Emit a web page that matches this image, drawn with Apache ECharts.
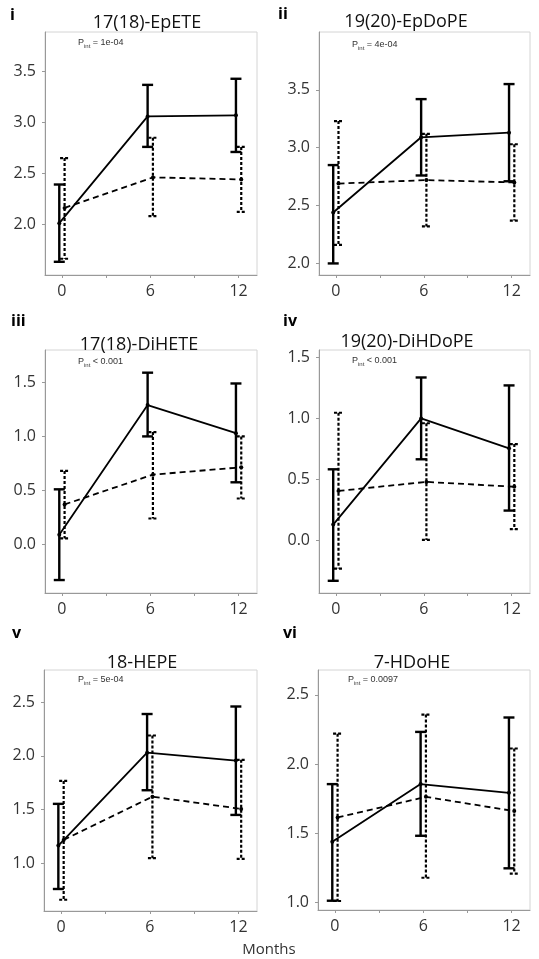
<!DOCTYPE html>
<html>
<head>
<meta charset="utf-8">
<script src="https://cdn.jsdelivr.net/npm/echarts@6/dist/echarts.min.js"></script>
<style>
  html, body { margin: 0; padding: 0; background: #fff; }
  #box1 { width: 539px; height: 959px; }
</style>
</head>
<body>
<div id="box1"></div>
<script>
// data
var months = [0, 6, 12];
var panelLetters = ['i', 'ii', 'iii', 'iv', 'v', 'vi'];
var panelTitles = ['17(18)-EpETE', '19(20)-EpDoPE', '17(18)-DiHETE', '19(20)-DiHDoPE', '18-HEPE', '7-HDoHE'];
var pText = ['= 1e-04', '= 4e-04', '< 0.001', '< 0.001', '= 5e-04', '= 0.0097'];

// solid group: mean, lower, upper
var solidMean = [[2.01, 3.06, 3.07], [2.44, 3.09, 3.13], [0.09, 1.29, 1.03], [0.13, 1.0, 0.755], [1.165, 2.03, 1.956], [1.44, 1.856, 1.793]];
var solidLow = [[1.63, 2.76, 2.71], [2.0, 2.76, 2.71], [-0.33, 1.0, 0.575], [-0.33, 0.665, 0.245], [0.76, 1.68, 1.45], [1.014, 1.483, 1.248]];
var solidHigh = [[2.39, 3.37, 3.43], [2.85, 3.42, 3.55], [0.51, 1.59, 1.49], [0.583, 1.335, 1.27], [1.553, 2.39, 2.46], [1.856, 2.233, 2.337]];

// dashed group: mean, lower, upper
var dashMean = [[2.16, 2.46, 2.44], [2.69, 2.72, 2.70], [0.37, 0.646, 0.714], [0.406, 0.48, 0.44], [1.217, 1.62, 1.506], [1.615, 1.764, 1.661]];
var dashLow = [[1.66, 2.08, 2.12], [2.16, 2.32, 2.37], [0.055, 0.24, 0.425], [-0.23, 0.005, 0.093], [0.66, 1.047, 1.04], [1.012, 1.18, 1.21]];
var dashHigh = [[2.65, 2.85, 2.76], [3.23, 3.12, 3.03], [0.68, 1.04, 1.0], [1.046, 0.96, 0.79], [1.767, 2.19, 1.963], [2.22, 2.358, 2.113]];

// axis ranges and tick labels
var yMin = [1.5, 1.9, -0.45, -0.43, 0.555, 0.947];
var yMax = [3.89, 4.0, 1.80, 1.56, 2.80, 2.68];
var yTicks = [[2.0, 2.5, 3.0, 3.5], [2.0, 2.5, 3.0, 3.5], [0.0, 0.5, 1.0, 1.5], [0.0, 0.5, 1.0, 1.5], [1.0, 1.5, 2.0, 2.5], [1.0, 1.5, 2.0, 2.5]];
var xTicks = [0, 3, 6, 9, 12];
var xLabels = [0, 6, 12];

// layout
var FONT = '"Open Sans", "Noto Sans", sans-serif';
var X_MIN = -1.15, X_MAX = 13.25;
var DODGE = 0.18;
var grids = [
  { left: 45, top: 32, width: 212, height: 243 },
  { left: 319, top: 32, width: 211, height: 243 },
  { left: 45, top: 350, width: 212, height: 243 },
  { left: 319, top: 350, width: 211, height: 243 },
  { left: 44, top: 670, width: 213, height: 241 },
  { left: 318, top: 670, width: 212, height: 240 }
];
var letterPos = [[10, 17], [278, 16], [11, 323], [283, 323], [12, 635], [283, 635]];
var titlePos = [[147, 23], [406, 22], [139, 345], [407, 342], [142, 663], [412, 663]];
var pPos = [[78, 43], [352, 45], [78, 362], [352, 361], [78, 680], [348, 680]];

function errorBar(dashed) {
  return function (params, api) {
    var x = api.value(0);
    var lo = api.coord([x, api.value(1)]);
    var hi = api.coord([x, api.value(2)]);
    var w = dashed ? 4.5 : 5.5;
    var style = { stroke: '#000', lineWidth: dashed ? 2.2 : 2.4, lineDash: dashed ? [3, 2] : null };
    return {
      type: 'group',
      children: [
        { type: 'line', shape: { x1: hi[0], y1: hi[1], x2: lo[0], y2: lo[1] }, style: style },
        { type: 'line', shape: { x1: hi[0] - w, y1: hi[1], x2: hi[0] + w, y2: hi[1] }, style: style },
        { type: 'line', shape: { x1: lo[0] - w, y1: lo[1], x2: lo[0] + w, y2: lo[1] }, style: style }
      ]
    };
  };
}

var option = {
  animation: false,
  backgroundColor: '#fff',
  grid: [],
  xAxis: [],
  yAxis: [],
  series: [],
  graphic: []
};

for (var p = 0; p < 6; p++) {
  option.grid.push({
    left: grids[p].left, top: grids[p].top, width: grids[p].width, height: grids[p].height,
    show: true, borderColor: '#d4d4d4', borderWidth: 1
  });
  option.xAxis.push({
    gridIndex: p, type: 'value', min: X_MIN, max: X_MAX,
    axisLine: { show: true, onZero: false, lineStyle: { color: '#999', width: 1 } },
    axisTick: { show: true, customValues: xTicks, length: 3, lineStyle: { color: '#999' } },
    axisLabel: { customValues: xLabels, fontSize: 16, color: '#333', margin: 8, fontFamily: FONT },
    splitLine: { show: false }
  });
  option.yAxis.push({
    gridIndex: p, type: 'value', min: yMin[p], max: yMax[p],
    axisLine: { show: true, onZero: false, lineStyle: { color: '#999', width: 1 } },
    axisTick: { show: true, customValues: yTicks[p], length: 3, lineStyle: { color: '#999' } },
    axisLabel: {
      customValues: yTicks[p], fontSize: 16, color: '#333', margin: 9, fontFamily: FONT,
      formatter: function (v) { return v.toFixed(1); }
    },
    splitLine: { show: false }
  });

  var solidLine = [], dashLine = [], solidErr = [], dashErr = [];
  for (var j = 0; j < months.length; j++) {
    solidLine.push([months[j] - DODGE, solidMean[p][j]]);
    dashLine.push([months[j] + DODGE, dashMean[p][j]]);
    solidErr.push([months[j] - DODGE, solidLow[p][j], solidHigh[p][j]]);
    dashErr.push([months[j] + DODGE, dashLow[p][j], dashHigh[p][j]]);
  }

  option.series.push({
    type: 'custom', xAxisIndex: p, yAxisIndex: p,
    renderItem: errorBar(false), data: solidErr, encode: { x: 0, y: [1, 2] }, z: 3
  });
  option.series.push({
    type: 'custom', xAxisIndex: p, yAxisIndex: p,
    renderItem: errorBar(true), data: dashErr, encode: { x: 0, y: [1, 2] }, z: 3
  });
  option.series.push({
    type: 'line', xAxisIndex: p, yAxisIndex: p, data: solidLine,
    symbol: 'circle', symbolSize: 4, itemStyle: { color: '#000' },
    lineStyle: { color: '#000', width: 1.8 }, z: 4
  });
  option.series.push({
    type: 'line', xAxisIndex: p, yAxisIndex: p, data: dashLine,
    symbol: 'circle', symbolSize: 4, itemStyle: { color: '#000' },
    lineStyle: { color: '#000', width: 1.8, type: [6, 4] }, z: 4
  });

  // panel letter, title, P_int
  option.graphic.push({
    type: 'text', left: letterPos[p][0], top: letterPos[p][1] - 10,
    style: { text: panelLetters[p], fontSize: 16, fontWeight: 'bold', fill: '#000', fontFamily: FONT }
  });
  option.graphic.push({
    type: 'text', x: titlePos[p][0], y: titlePos[p][1],
    style: { text: panelTitles[p], fontSize: 18, fill: '#111', fontFamily: FONT, align: 'center', verticalAlign: 'middle' }
  });
  option.graphic.push({
    type: 'text', x: pPos[p][0], y: pPos[p][1],
    style: {
      text: '{a|P}{b|int}{a| ' + pText[p] + '}',
      verticalAlign: 'middle',
      rich: {
        a: { fontSize: 9, fontFamily: '"Liberation Sans", Arial, sans-serif', fill: '#333', lineHeight: 12 },
        b: { fontSize: 6, fontFamily: '"Liberation Sans", Arial, sans-serif', fill: '#333', lineHeight: 12, verticalAlign: 'bottom', padding: [4, 0, 0, 0] }
      }
    }
  });
}

option.graphic.push({
  type: 'text', x: 269, y: 950,
  style: { text: 'Months', fontSize: 15, fill: '#333', fontFamily: FONT, align: 'center', verticalAlign: 'middle' }
});

var myChart = echarts.init(document.getElementById('box1'));
myChart.setOption(option);
</script>
</body>
</html>
